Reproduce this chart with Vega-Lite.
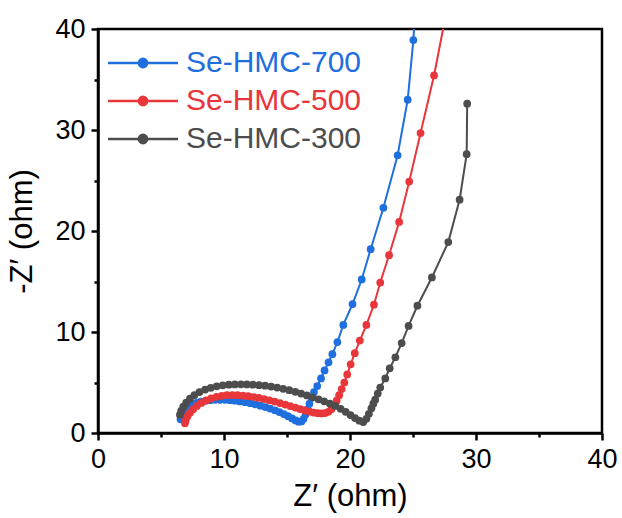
{
  "$schema": "https://vega.github.io/schema/vega-lite/v6.json",
  "width": 504,
  "height": 404,
  "autosize": {"type": "none"},
  "padding": {"left": 98, "top": 29, "right": 20, "bottom": 85},
  "background": "white",
  "config": {
    "font": "Liberation Sans",
    "view": {"stroke": "black", "strokeWidth": 2.5},
    "axis": {
      "grid": false,
      "labelFlush": false,
      "domainColor": "black",
      "domainWidth": 2.5,
      "tickColor": "black",
      "tickWidth": 2.5,
      "tickSize": 7,
      "labelFontSize": 27,
      "labelColor": "black",
      "labelFont": "Liberation Sans",
      "titleFont": "Liberation Sans",
      "titleFontSize": 31,
      "titleFontWeight": "normal",
      "titleColor": "black"
    }
  },
  "data": {
    "values": [
      {"s": "Se-HMC-700", "x": 6.55, "y": 1.35},
      {"s": "Se-HMC-700", "x": 6.62, "y": 1.72},
      {"s": "Se-HMC-700", "x": 6.75, "y": 2.05},
      {"s": "Se-HMC-700", "x": 6.95, "y": 2.35},
      {"s": "Se-HMC-700", "x": 7.2, "y": 2.6},
      {"s": "Se-HMC-700", "x": 7.5, "y": 2.82},
      {"s": "Se-HMC-700", "x": 7.82, "y": 2.98},
      {"s": "Se-HMC-700", "x": 8.16, "y": 3.1},
      {"s": "Se-HMC-700", "x": 8.52, "y": 3.19},
      {"s": "Se-HMC-700", "x": 8.9, "y": 3.25},
      {"s": "Se-HMC-700", "x": 9.28, "y": 3.28},
      {"s": "Se-HMC-700", "x": 9.68, "y": 3.29},
      {"s": "Se-HMC-700", "x": 10.08, "y": 3.28},
      {"s": "Se-HMC-700", "x": 10.48, "y": 3.25},
      {"s": "Se-HMC-700", "x": 10.88, "y": 3.2},
      {"s": "Se-HMC-700", "x": 11.28, "y": 3.13},
      {"s": "Se-HMC-700", "x": 11.68, "y": 3.05},
      {"s": "Se-HMC-700", "x": 12.08, "y": 2.95},
      {"s": "Se-HMC-700", "x": 12.48, "y": 2.84},
      {"s": "Se-HMC-700", "x": 12.88, "y": 2.71},
      {"s": "Se-HMC-700", "x": 13.28, "y": 2.57},
      {"s": "Se-HMC-700", "x": 13.66, "y": 2.42},
      {"s": "Se-HMC-700", "x": 14.04, "y": 2.25},
      {"s": "Se-HMC-700", "x": 14.4, "y": 2.07},
      {"s": "Se-HMC-700", "x": 14.75, "y": 1.87},
      {"s": "Se-HMC-700", "x": 15.08, "y": 1.66},
      {"s": "Se-HMC-700", "x": 15.4, "y": 1.44},
      {"s": "Se-HMC-700", "x": 15.68, "y": 1.25},
      {"s": "Se-HMC-700", "x": 15.92, "y": 1.12},
      {"s": "Se-HMC-700", "x": 16.14, "y": 1.14},
      {"s": "Se-HMC-700", "x": 16.32, "y": 1.4},
      {"s": "Se-HMC-700", "x": 16.48, "y": 1.85},
      {"s": "Se-HMC-700", "x": 16.63, "y": 2.35},
      {"s": "Se-HMC-700", "x": 16.78, "y": 2.9},
      {"s": "Se-HMC-700", "x": 16.95, "y": 3.5},
      {"s": "Se-HMC-700", "x": 17.14, "y": 4.05},
      {"s": "Se-HMC-700", "x": 17.4, "y": 4.65},
      {"s": "Se-HMC-700", "x": 17.7, "y": 5.4},
      {"s": "Se-HMC-700", "x": 17.98, "y": 6.2},
      {"s": "Se-HMC-700", "x": 18.3, "y": 7.0},
      {"s": "Se-HMC-700", "x": 18.6, "y": 7.8},
      {"s": "Se-HMC-700", "x": 19.0, "y": 9.0},
      {"s": "Se-HMC-700", "x": 19.47, "y": 10.7},
      {"s": "Se-HMC-700", "x": 20.2, "y": 12.77},
      {"s": "Se-HMC-700", "x": 20.93, "y": 15.2},
      {"s": "Se-HMC-700", "x": 21.64, "y": 18.2},
      {"s": "Se-HMC-700", "x": 22.65, "y": 22.3},
      {"s": "Se-HMC-700", "x": 23.78, "y": 27.5},
      {"s": "Se-HMC-700", "x": 24.58, "y": 33.0},
      {"s": "Se-HMC-700", "x": 25.03, "y": 38.9},
      {"s": "Se-HMC-700", "x": 25.3, "y": 45.0},

      {"s": "Se-HMC-500", "x": 6.9, "y": 0.96},
      {"s": "Se-HMC-500", "x": 6.98, "y": 1.3},
      {"s": "Se-HMC-500", "x": 7.1, "y": 1.65},
      {"s": "Se-HMC-500", "x": 7.3, "y": 2.0},
      {"s": "Se-HMC-500", "x": 7.55, "y": 2.35},
      {"s": "Se-HMC-500", "x": 7.85, "y": 2.68},
      {"s": "Se-HMC-500", "x": 8.2, "y": 2.98},
      {"s": "Se-HMC-500", "x": 8.58, "y": 3.22},
      {"s": "Se-HMC-500", "x": 8.98, "y": 3.42},
      {"s": "Se-HMC-500", "x": 9.4, "y": 3.58},
      {"s": "Se-HMC-500", "x": 9.82, "y": 3.68},
      {"s": "Se-HMC-500", "x": 10.24, "y": 3.74},
      {"s": "Se-HMC-500", "x": 10.66, "y": 3.76},
      {"s": "Se-HMC-500", "x": 11.08, "y": 3.74},
      {"s": "Se-HMC-500", "x": 11.5, "y": 3.7},
      {"s": "Se-HMC-500", "x": 11.92, "y": 3.64},
      {"s": "Se-HMC-500", "x": 12.34, "y": 3.56},
      {"s": "Se-HMC-500", "x": 12.76, "y": 3.47},
      {"s": "Se-HMC-500", "x": 13.18, "y": 3.36},
      {"s": "Se-HMC-500", "x": 13.6, "y": 3.24},
      {"s": "Se-HMC-500", "x": 14.02, "y": 3.11},
      {"s": "Se-HMC-500", "x": 14.44, "y": 2.97},
      {"s": "Se-HMC-500", "x": 14.86, "y": 2.82},
      {"s": "Se-HMC-500", "x": 15.26, "y": 2.67},
      {"s": "Se-HMC-500", "x": 15.66, "y": 2.52},
      {"s": "Se-HMC-500", "x": 16.04, "y": 2.37},
      {"s": "Se-HMC-500", "x": 16.42, "y": 2.23},
      {"s": "Se-HMC-500", "x": 16.78, "y": 2.11},
      {"s": "Se-HMC-500", "x": 17.12, "y": 2.02},
      {"s": "Se-HMC-500", "x": 17.44, "y": 1.96},
      {"s": "Se-HMC-500", "x": 17.74, "y": 1.94},
      {"s": "Se-HMC-500", "x": 18.02, "y": 1.97},
      {"s": "Se-HMC-500", "x": 18.28, "y": 2.1},
      {"s": "Se-HMC-500", "x": 18.52, "y": 2.35},
      {"s": "Se-HMC-500", "x": 18.74, "y": 2.72},
      {"s": "Se-HMC-500", "x": 18.94, "y": 3.2},
      {"s": "Se-HMC-500", "x": 19.14, "y": 3.75},
      {"s": "Se-HMC-500", "x": 19.34, "y": 4.35},
      {"s": "Se-HMC-500", "x": 19.55, "y": 5.0},
      {"s": "Se-HMC-500", "x": 19.78, "y": 5.8},
      {"s": "Se-HMC-500", "x": 20.05, "y": 6.8},
      {"s": "Se-HMC-500", "x": 20.38, "y": 7.9},
      {"s": "Se-HMC-500", "x": 20.78, "y": 9.15},
      {"s": "Se-HMC-500", "x": 21.3, "y": 10.7},
      {"s": "Se-HMC-500", "x": 21.9, "y": 12.7},
      {"s": "Se-HMC-500", "x": 22.4, "y": 14.9},
      {"s": "Se-HMC-500", "x": 23.1, "y": 17.6},
      {"s": "Se-HMC-500", "x": 23.9, "y": 20.9},
      {"s": "Se-HMC-500", "x": 24.7, "y": 24.9},
      {"s": "Se-HMC-500", "x": 25.6, "y": 29.7},
      {"s": "Se-HMC-500", "x": 26.67, "y": 35.4},
      {"s": "Se-HMC-500", "x": 27.7, "y": 42.0},

      {"s": "Se-HMC-300", "x": 6.5, "y": 1.8},
      {"s": "Se-HMC-300", "x": 6.6, "y": 2.2},
      {"s": "Se-HMC-300", "x": 6.77, "y": 2.6},
      {"s": "Se-HMC-300", "x": 7.0, "y": 3.0},
      {"s": "Se-HMC-300", "x": 7.3, "y": 3.4},
      {"s": "Se-HMC-300", "x": 7.65, "y": 3.75},
      {"s": "Se-HMC-300", "x": 8.05, "y": 4.05},
      {"s": "Se-HMC-300", "x": 8.5, "y": 4.3},
      {"s": "Se-HMC-300", "x": 8.95, "y": 4.48},
      {"s": "Se-HMC-300", "x": 9.42, "y": 4.62},
      {"s": "Se-HMC-300", "x": 9.9, "y": 4.72},
      {"s": "Se-HMC-300", "x": 10.38, "y": 4.78},
      {"s": "Se-HMC-300", "x": 10.86, "y": 4.81},
      {"s": "Se-HMC-300", "x": 11.34, "y": 4.82},
      {"s": "Se-HMC-300", "x": 11.82, "y": 4.81},
      {"s": "Se-HMC-300", "x": 12.3, "y": 4.78},
      {"s": "Se-HMC-300", "x": 12.78, "y": 4.74},
      {"s": "Se-HMC-300", "x": 13.26, "y": 4.68},
      {"s": "Se-HMC-300", "x": 13.74, "y": 4.6},
      {"s": "Se-HMC-300", "x": 14.22, "y": 4.5},
      {"s": "Se-HMC-300", "x": 14.7, "y": 4.38},
      {"s": "Se-HMC-300", "x": 15.18, "y": 4.24},
      {"s": "Se-HMC-300", "x": 15.66, "y": 4.08},
      {"s": "Se-HMC-300", "x": 16.12, "y": 3.9},
      {"s": "Se-HMC-300", "x": 16.58, "y": 3.72},
      {"s": "Se-HMC-300", "x": 17.04, "y": 3.53},
      {"s": "Se-HMC-300", "x": 17.5, "y": 3.34},
      {"s": "Se-HMC-300", "x": 17.95, "y": 3.14},
      {"s": "Se-HMC-300", "x": 18.4, "y": 2.92},
      {"s": "Se-HMC-300", "x": 18.84, "y": 2.68},
      {"s": "Se-HMC-300", "x": 19.26, "y": 2.4},
      {"s": "Se-HMC-300", "x": 19.66, "y": 2.1},
      {"s": "Se-HMC-300", "x": 20.04, "y": 1.78},
      {"s": "Se-HMC-300", "x": 20.4, "y": 1.48},
      {"s": "Se-HMC-300", "x": 20.74, "y": 1.22},
      {"s": "Se-HMC-300", "x": 21.05, "y": 1.08},
      {"s": "Se-HMC-300", "x": 21.3, "y": 1.4},
      {"s": "Se-HMC-300", "x": 21.5, "y": 1.9},
      {"s": "Se-HMC-300", "x": 21.7, "y": 2.45},
      {"s": "Se-HMC-300", "x": 21.85, "y": 2.9},
      {"s": "Se-HMC-300", "x": 22.0, "y": 3.3},
      {"s": "Se-HMC-300", "x": 22.2, "y": 3.9},
      {"s": "Se-HMC-300", "x": 22.4, "y": 4.5},
      {"s": "Se-HMC-300", "x": 22.8, "y": 5.4},
      {"s": "Se-HMC-300", "x": 23.15, "y": 6.4},
      {"s": "Se-HMC-300", "x": 23.6, "y": 7.5},
      {"s": "Se-HMC-300", "x": 24.1, "y": 8.9},
      {"s": "Se-HMC-300", "x": 24.65, "y": 10.6},
      {"s": "Se-HMC-300", "x": 25.35, "y": 12.6},
      {"s": "Se-HMC-300", "x": 26.5, "y": 15.4},
      {"s": "Se-HMC-300", "x": 27.8, "y": 18.9},
      {"s": "Se-HMC-300", "x": 28.7, "y": 23.1},
      {"s": "Se-HMC-300", "x": 29.26, "y": 27.6},
      {"s": "Se-HMC-300", "x": 29.3, "y": 32.6}
    ]
  },
  "encoding": {
    "x": {"field": "x", "type": "quantitative"},
    "y": {"field": "y", "type": "quantitative"},
    "color": {
      "field": "s",
      "type": "nominal",
      "scale": {
        "domain": ["Se-HMC-700", "Se-HMC-500", "Se-HMC-300"],
        "range": ["#1f6fde", "#e8363b", "#4d4d4d"]
      },
      "legend": {
        "orient": "none",
        "legendX": 10,
        "legendY": 19,
        "title": null,
        "padding": 0,
        "symbolType": "M-5,0H5M-0.6,0A0.6,0.6,0,1,1,0.6,0A0.6,0.6,0,1,1,-0.6,0Z",
        "symbolSize": 196,
        "symbolStrokeWidth": 2.5,
        "symbolOffset": 20,
        "labelOffset": 28,
        "labelLimit": 0,
        "labelFontSize": 30,
        "labelFont": "Liberation Sans",
        "rowPadding": 8,
        "encode": {
          "labels": {"update": {"fill": {"scale": "color", "field": "value"}}},
          "symbols": {
            "update": {
              "fill": {"scale": "color", "field": "value"},
              "stroke": {"scale": "color", "field": "value"},
              "opacity": {"value": 1}
            }
          }
        }
      }
    }
  },
  "layer": [
    {
      "mark": {"type": "line", "strokeWidth": 2, "clip": true},
      "encoding": {
        "x": {
          "field": "x",
          "type": "quantitative",
          "scale": {"domain": [0, 40], "nice": false},
          "axis": {"values": [0, 10, 20, 30, 40], "title": "Z′ (ohm)", "labelPadding": 6, "titlePadding": 9}
        },
        "y": {
          "field": "y",
          "type": "quantitative",
          "scale": {"domain": [0, 40], "nice": false},
          "axis": {"values": [0, 10, 20, 30, 40], "title": "-Z′ (ohm)", "labelPadding": 6, "titlePadding": 16}
        }
      }
    },
    {
      "mark": {"type": "point", "filled": true, "size": 60, "opacity": 1, "clip": true},
      "encoding": {
        "x": {
          "field": "x",
          "type": "quantitative",
          "axis": {"orient": "bottom", "values": [5, 15, 25, 35], "labels": false, "domain": false, "tickSize": 4, "title": null}
        },
        "y": {
          "field": "y",
          "type": "quantitative",
          "axis": {"orient": "left", "values": [5, 15, 25, 35], "labels": false, "domain": false, "tickSize": 4, "title": null}
        }
      }
    }
  ],
  "resolve": {"axis": {"x": "independent", "y": "independent"}}
}
